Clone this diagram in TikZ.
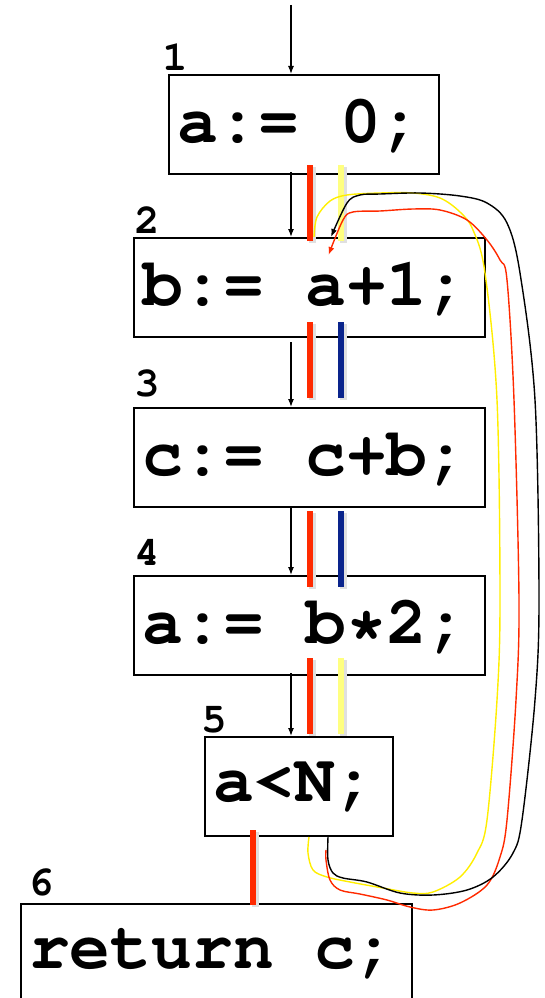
\documentclass[tikz,border=0pt]{standalone}
\usepackage[T1]{fontenc}
\renewcommand{\ttdefault}{pcr}
\usepackage{tikz}
\usetikzlibrary{arrows.meta, positioning, calc}

\definecolor{barred}{RGB}{255,42,0}
\definecolor{baryellow}{RGB}{255,255,128}
\definecolor{barblue}{RGB}{10,36,140}
\definecolor{liveyellow}{RGB}{255,238,0}

\newcommand{\fixspace}{\spaceskip=0.6em\relax}

\begin{document}
\begin{tikzpicture}[
      x=1pt, y=-1pt,
      block/.style={draw, line width=2pt, anchor=north west, minimum height=99pt,
        inner xsep=8pt, align=left, execute at begin node=\fixspace,
        font=\ttfamily\bfseries\fontsize{68}{68}\selectfont},
      num/.style={font=\ttfamily\bfseries\fontsize{42}{42}\selectfont, inner sep=0pt},
      flow/.style={line width=1.2pt, -{Latex[length=8pt, width=6pt]}},
      bar/.style={line width=6pt, line cap=butt,
        preaction={draw=black!12, line width=7pt, transform canvas={xshift=2pt, yshift=-2pt}}}
    ]
      \useasboundingbox (0,0) rectangle (544,998);

      % blocks
      \node[block, text width=254pt] (b1) at (168,74) {a:= 0;};
      \node[block, text width=335pt] (b2) at (133,237) {b:= a+1;};
      \node[block, text width=335pt] (b3) at (133,407) {c:= c+b;};
      \node[block, text width=335pt] (b4) at (133,575) {a:= b*2;};
      \node[block, text width=172pt] (b5) at (204,736) {a<N;};
      \node[block, text width=375pt] (b6) at (20,903) {return c;};

      % numbers
      \node[num] (n1) at (175,57) {1};
      \node[num] (n2) at (147,220) {2};
      \node[num] (n3) at (147,384) {3};
      \node[num] (n4) at (147,552) {4};
      \node[num] (n5) at (214,720) {5};
      \node[num] (n6) at (41,883) {6};

      % control flow
      \coordinate (entry) at (291,5);
      \coordinate (exit) at (253,0);
      \draw[flow] (entry) -- (entry |- b1.north);
      \draw[flow] ([yshift=3pt]entry |- b1.south) -- (entry |- b2.north);
      \draw[flow] ([yshift=-4pt]entry |- b2.south) -- (entry |- b3.north);
      \draw[flow] (entry |- b3.south) -- (entry |- b4.north);
      \draw[flow] ([yshift=3pt]entry |- b4.south) -- (entry |- b5.north);
      \draw[flow] ([yshift=4pt]exit |- b5.south) -- (exit |- b6.north);

      % live ranges
      \draw[bar, barred] (310,165) -- (310,241);
      \draw[bar, baryellow] (341,165) -- (341,241);
      \draw[bar, barred] (310,322) -- (310,398);
      \draw[bar, barblue] (341,322) -- (341,398);
      \draw[bar, barred] (310,511) -- (310,587);
      \draw[bar, barblue] (341,511) -- (341,587);
      \draw[bar, barred] (310,658) -- (310,734);
      \draw[bar, baryellow] (341,658) -- (341,734);
      \draw[bar, barred] (253,830) -- (253,905);

      % back edge
      \draw[line width=1.4pt, liveyellow] plot[smooth, tension=0.55] coordinates {
        ($(b5.south)+(10,0)$) (308,853) (313,870) (327,877) (350,882) (383,888)
        (413,893) (433,892) (460,877) (477,853) (487,820) (497,700) (500,600)
        (497,400) (485,273) (473,230) (460,212) (440,198) (413,193) (380,193)
        (347,195) (330,201) (317,217) ($(b2.north)+(4.5,0)$)};
      \draw[line width=1.4pt, barred, -{Latex[length=8pt, width=6pt]}] plot[smooth, tension=0.55] coordinates {
        (326,850) (326,860) (330,880) (340,890) (360,894) (387,900) (410,907)
        (433,910) (460,903) (487,885) (500,857) (507,820) (516,700) (519,600)
        (514,400) (507,280) (500,260) (487,240) (467,220) (440,210) (413,209)
        (380,211) (353,212) (343,220) ($(b2.north)+(19,18)$)};
      \draw[line width=1.4pt, -{Latex[length=8pt, width=6pt]}] plot[smooth, tension=0.55] coordinates {
        ($(b5.south)+(29,0)$) (328,860) (333,873) (343,878) (367,882) (400,893)
        (433,895) (467,890) (493,877) (513,853) (522,820) (535,700) (539,600)
        (535,400) (520,273) (507,223) (487,203) (460,196) (420,193) (380,194)
        (360,195) (347,203) ($(b2.north)+(21.5,0)$)};
    \end{tikzpicture}
\end{document}
